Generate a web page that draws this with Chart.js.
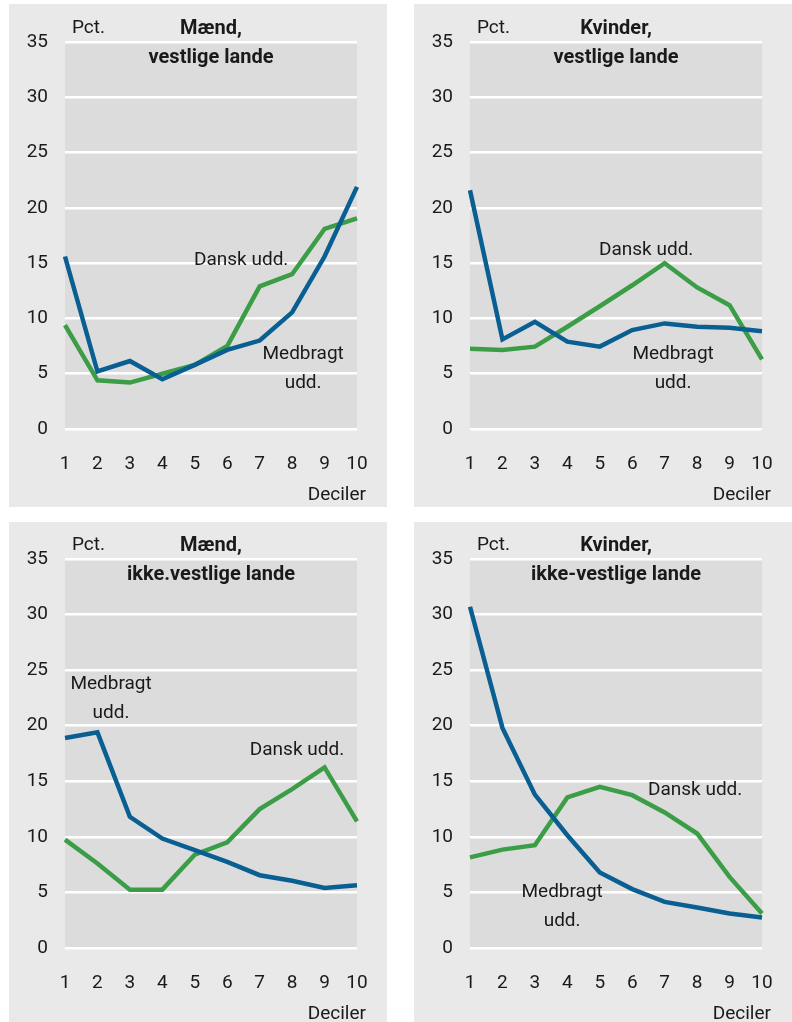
<!DOCTYPE html>
<html>
<head>
<meta charset="utf-8">
<script src="https://cdn.jsdelivr.net/npm/chart.js@4.4.1/dist/chart.umd.min.js"></script>
<style>
  body { margin: 0; background: #ffffff; }
  .panel { position: absolute; background: #e9e9e9; }
  .panel canvas { display: block; }
</style>
</head>
<body>
<div class="panel" style="left:9px;top:4px;width:378px;height:503px"><canvas id="c1"></canvas></div>
<div class="panel" style="left:414px;top:4px;width:378px;height:503px"><canvas id="c2"></canvas></div>
<div class="panel" style="left:9px;top:522px;width:378px;height:500px"><canvas id="c3"></canvas></div>
<div class="panel" style="left:414px;top:522px;width:378px;height:500px"><canvas id="c4"></canvas></div>
<script>
// --- data (pct.) ---
const deciles = ["1", "2", "3", "4", "5", "6", "7", "8", "9", "10"];

const maendVestMedbragt = [15.6, 5.2, 6.15, 4.5, 5.8, 7.15, 8.0, 10.55, 15.6, 21.9];
const maendVestDansk = [9.4, 4.4, 4.2, 5.0, 5.8, 7.5, 12.9, 14.0, 18.1, 19.05];

const kvinderVestMedbragt = [21.6, 8.1, 9.7, 7.9, 7.45, 8.95, 9.55, 9.25, 9.15, 8.85];
const kvinderVestDansk = [7.25, 7.15, 7.45, 9.25, 11.1, 13.0, 15.0, 12.8, 11.2, 6.3];

const maendIkkeVestMedbragt = [18.9, 19.4, 11.8, 9.85, 8.8, 7.75, 6.55, 6.05, 5.4, 5.65];
const maendIkkeVestDansk = [9.75, 7.6, 5.25, 5.25, 8.4, 9.5, 12.5, 14.3, 16.25, 11.4];

const kvinderIkkeVestMedbragt = [30.7, 19.8, 13.8, 10.15, 6.8, 5.3, 4.15, 3.65, 3.1, 2.75];
const kvinderIkkeVestDansk = [8.15, 8.85, 9.25, 13.55, 14.5, 13.75, 12.2, 10.3, 6.4, 3.1];

const BLUE = "#0a5f92";
const GREEN = "#3c9d47";
const TEXT = "#1a1a1a";
const FONT = "Roboto, 'Liberation Sans', sans-serif";

// baggrund, titel, "Pct.", "Deciler" og tekst ved kurverne
const panelDecor = {
  id: "panelDecor",
  beforeDraw(chart, args, opts) {
    const a = chart.chartArea;
    const ctx = chart.ctx;
    ctx.save();
    ctx.fillStyle = "#dcdcdc";
    ctx.fillRect(a.left, a.top, a.right - a.left, a.bottom - a.top);
    ctx.restore();
  },
  afterDraw(chart, args, opts) {
    const a = chart.chartArea;
    const ctx = chart.ctx;
    const xs = chart.scales.x, ys = chart.scales.y;
    ctx.save();
    ctx.fillStyle = TEXT;
    ctx.textBaseline = "middle";

    ctx.font = "bold 20px " + FONT;
    ctx.textAlign = "center";
    const cx = (a.left + a.right) / 2;
    opts.title.forEach((t, i) => ctx.fillText(t, cx, a.top - 13 + i * 29));

    ctx.font = "19px " + FONT;
    ctx.textAlign = "left";
    ctx.fillText("Pct.", a.left + 7, a.top - 14);
    ctx.textAlign = "right";
    ctx.fillText("Deciler", a.right + 9, a.bottom + 66);

    ctx.textAlign = "center";
    opts.notes.forEach(n => {
      const px = xs.getPixelForValue(n.x - 1);
      const py = ys.getPixelForValue(n.y);
      n.lines.forEach((l, i) => ctx.fillText(l, px, py + i * 29));
    });
    ctx.restore();
  }
};

function makePanel(id, title, medbragt, dansk, notes, padTop, xHeight) {
  new Chart(document.getElementById(id), {
    type: "line",
    data: {
      labels: deciles,
      datasets: [
        {
          label: "Medbragt udd.",
          data: medbragt,
          borderColor: BLUE,
          borderWidth: 4.5,
          pointRadius: 0,
          tension: 0,
          borderJoinStyle: "miter",
        },
        {
          label: "Dansk udd.",
          data: dansk,
          borderColor: GREEN,
          borderWidth: 4.5,
          pointRadius: 0,
          tension: 0,
          borderJoinStyle: "miter",
        },
      ],
    },
    options: {
      responsive: true,
      maintainAspectRatio: false,
      animation: false,
      layout: { padding: { left: 0, right: 30, top: padTop, bottom: 0 } },
      plugins: {
        legend: { display: false },
        tooltip: { enabled: false },
        panelDecor: { title: title, notes: notes },
      },
      scales: {
        x: {
          grid: { display: false, drawTicks: false },
          border: { display: false },
          ticks: { color: TEXT, font: { family: FONT, size: 19 }, padding: 24, maxRotation: 0, autoSkip: false },
          afterFit: s => { s.height = xHeight; s.paddingLeft = 0; s.paddingRight = 0; },
        },
        y: {
          min: 0,
          max: 35,
          grid: { color: "#ffffff", lineWidth: 2.5, drawTicks: false },
          border: { display: false },
          ticks: { stepSize: 5, color: TEXT, font: { family: FONT, size: 19 }, padding: 17 },
          afterFit: s => { s.width = 56; },
        },
      },
    },
    plugins: [panelDecor],
  });
}

makePanel("c1", ["Mænd,", "vestlige lande"], maendVestMedbragt, maendVestDansk, [
  { x: 6.43, y: 15.3, lines: ["Dansk udd."] },
  { x: 8.34, y: 6.8, lines: ["Medbragt", "udd."] },
], 38, 78);

makePanel("c2", ["Kvinder,", "vestlige lande"], kvinderVestMedbragt, kvinderVestDansk, [
  { x: 6.43, y: 16.2, lines: ["Dansk udd."] },
  { x: 7.26, y: 6.8, lines: ["Medbragt", "udd."] },
], 38, 78);

makePanel("c3", ["Mænd,", "ikke.vestlige lande"], maendIkkeVestMedbragt, maendIkkeVestDansk, [
  { x: 2.42, y: 23.7, lines: ["Medbragt", "udd."] },
  { x: 8.15, y: 17.8, lines: ["Dansk udd."] },
], 37, 74);

makePanel("c4", ["Kvinder,", "ikke-vestlige lande"], kvinderIkkeVestMedbragt, kvinderIkkeVestDansk, [
  { x: 7.94, y: 14.2, lines: ["Dansk udd."] },
  { x: 3.84, y: 5.0, lines: ["Medbragt", "udd."] },
], 37, 74);
</script>
</body>
</html>
